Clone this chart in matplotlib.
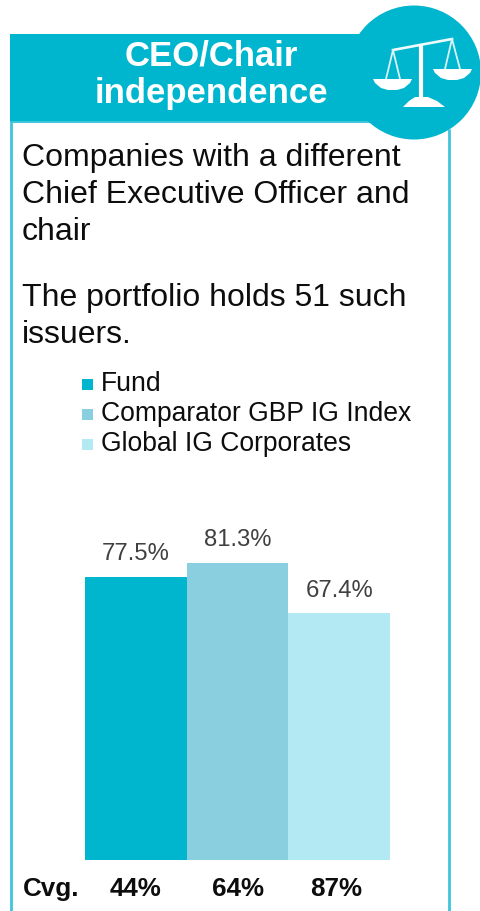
import numpy as np
from matplotlib import pyplot as plt
from matplotlib.patches import Circle, Polygon, Rectangle

series = ["Fund", "Comparator GBP IG Index", "Global IG Corporates"]
values = [77.5, 81.3, 67.4]
coverage = ["44%", "64%", "87%"]
colors = ["#00b5ce", "#89cfe0", "#b3e9f2"]
title_lines = ["CEO/Chair", "independence"]
body_lines = ["Companies with a different", "Chief Executive Officer and", "chair"]
holds_lines = ["The portfolio holds 51 such", "issuers."]

plt.rcParams["font.family"] = ["Liberation Sans", "DejaVu Sans"]
W, H = 481, 912
TEAL = "#00b5ce"
FRAME = "#3fc5d9"
TEXT = "#0d0d0d"

fig = plt.figure(figsize=(W / 100, H / 100), dpi=100, facecolor="white")

# overlay in pixel coordinates for the panel furniture
bg = fig.add_axes([0, 0, 1, 1])
bg.set_xlim(0, W)
bg.set_ylim(H, 0)
bg.axis("off")


def pan(x, y):
    return [(x, y), (x + 39, y), (x + 37, y + 4), (x + 31, y + 9), (x + 24, y + 11),
            (x + 15, y + 11), (x + 8, y + 9), (x + 2, y + 4)]


# frame and header
bg.plot([11.5, 11.5], [35, H], color=FRAME, lw=2, zorder=1, solid_capstyle="butt")
bg.plot([449.5, 449.5], [130, H], color=FRAME, lw=2, zorder=1, solid_capstyle="butt")
bg.add_patch(Rectangle((10.5, 34.5), 400, 88, fc=TEAL, ec="none", zorder=2))
bg.plot([11, 400], [123, 123], color=FRAME, lw=1.4, zorder=2)
bg.add_patch(Circle((414, 73.5), 67, fc=TEAL, ec="none", zorder=2))

# scales icon
bg.plot([393, 452], [51, 40], color="#eefbfd", lw=1.9, zorder=3)
bg.plot([421.5, 421.5], [47, 100], color="white", lw=3, zorder=3)
bg.plot([393, 386], [51, 80], color="#d8f4f8", lw=1.3, zorder=3)
bg.plot([393, 400], [51, 80], color="#d8f4f8", lw=1.3, zorder=3)
bg.plot([452, 445], [40, 70], color="#d8f4f8", lw=1.3, zorder=3)
bg.plot([452, 460], [40, 70], color="#d8f4f8", lw=1.3, zorder=3)
bg.add_patch(Polygon(pan(373, 80), fc="white", ec="none", zorder=3))
bg.add_patch(Polygon(pan(433, 70), fc="white", ec="none", zorder=3))
bg.add_patch(Polygon([(403, 108), (445, 108), (437, 102), (428, 98), (415, 98), (409, 102)],
                     fc="white", ec="none", zorder=3))

# header text
for line, y in zip(title_lines, [56, 93]):
    bg.text(211.5, y, line, color="white", fontsize=25, fontweight="bold",
            ha="center", va="center", zorder=4)

# body text
for line, y in zip(body_lines, [158, 195, 232]):
    bg.text(22, y, line, color=TEXT, fontsize=23, ha="left", va="center")
for line, y in zip(holds_lines, [298, 335]):
    bg.text(22, y, line, color=TEXT, fontsize=23, ha="left", va="center")

# legend
for name, c, y in zip(series, colors, [384, 414, 444]):
    bg.add_patch(Rectangle((82, y - 4), 11, 11, fc=c, ec="none"))
    bg.text(101, y, name, color=TEXT, fontsize=19.1, ha="left", va="center")

# bars
x0, x1, y_top, y_base = 85, 390, 520, 860.5
ax = fig.add_axes([x0 / W, 1 - y_base / H, (x1 - x0) / W, (y_base - y_top) / H])
ax.patch.set_alpha(0)
pos = np.arange(len(values))
ax.bar(pos, values, width=1.0, color=colors, linewidth=0)
ax.set_xlim(-0.5, 2.5)
ax.set_ylim(0, (y_base - y_top) / 3.65)
ax.axis("off")
for p, v in zip(pos, values):
    ax.annotate(f"{v}%", (p, v), xytext=(0, 9), textcoords="offset points",
                ha="center", va="bottom", color="#404040", fontsize=17.2)

# coverage row
bg.text(23, 889, "Cvg.", color=TEXT, fontsize=18.7, fontweight="bold", ha="left", va="center")
for label, x in zip(coverage, [136, 238, 336]):
    bg.text(x, 889, label, color=TEXT, fontsize=18.7, fontweight="bold", ha="center", va="center")

fig.savefig("out.png", dpi=100)
